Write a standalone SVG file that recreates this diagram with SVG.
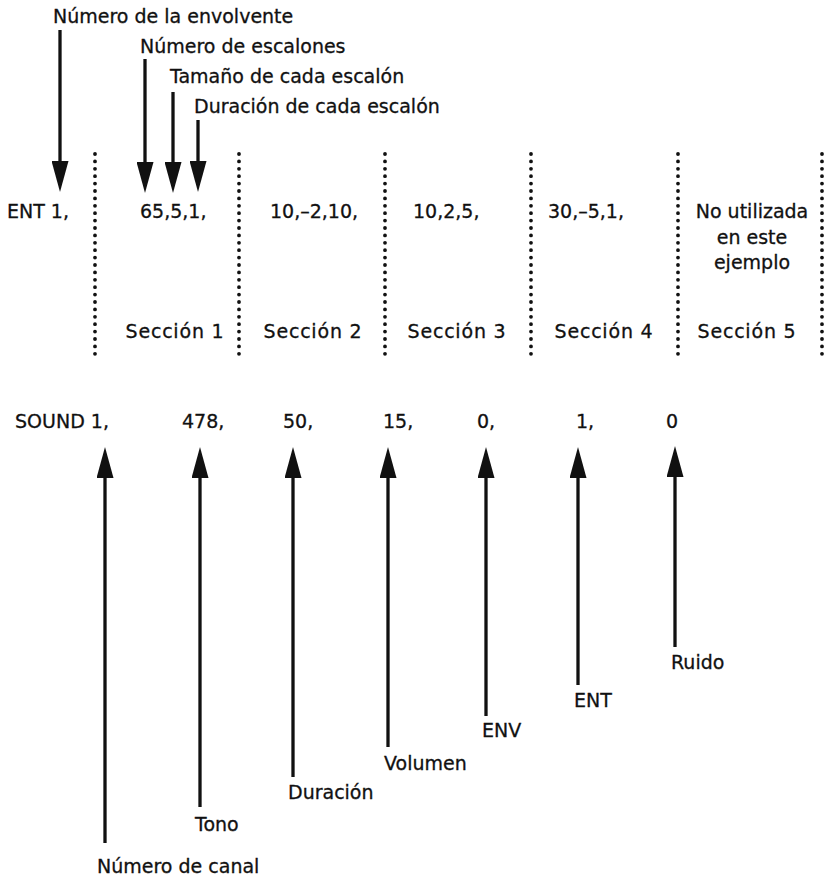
<svg xmlns="http://www.w3.org/2000/svg" width="824" height="879" viewBox="0 0 824 879">
<style>
text{font-family:"DejaVu Sans","Liberation Sans",sans-serif;font-size:19px;fill:#111;stroke:#111;stroke-width:0.3}
.m{text-anchor:middle}
.s{letter-spacing:0.8px}
.arr{stroke:#111;stroke-width:3.3;fill:none}
.dot{stroke:#111;stroke-width:3.8;stroke-linecap:round;stroke-dasharray:0 7.4;fill:none}
</style>
<defs>
<marker id="ah" viewBox="0 0 31 17" refX="19" refY="8.5" markerWidth="31" markerHeight="17" markerUnits="userSpaceOnUse" orient="auto">
<path d="M0,0 L31,8.5 L0,17 z" fill="#111"/>
</marker>
</defs>
<rect width="824" height="879" fill="#fff"/>
<g id="separators">
<line class="dot" x1="95" y1="154" x2="95" y2="356"/>
<line class="dot" x1="239" y1="154" x2="239" y2="356"/>
<line class="dot" x1="385" y1="154" x2="385" y2="356"/>
<line class="dot" x1="531" y1="154" x2="531" y2="356"/>
<line class="dot" x1="678" y1="154" x2="678" y2="356"/>
<line class="dot" x1="822" y1="154" x2="822" y2="356"/>
</g>
<g id="connectors">
<line class="arr" x1="60" y1="30" x2="60" y2="180" marker-end="url(#ah)"/>
<line class="arr" x1="145" y1="59" x2="145" y2="181" marker-end="url(#ah)"/>
<line class="arr" x1="173" y1="92" x2="173" y2="181" marker-end="url(#ah)"/>
<line class="arr" x1="198" y1="120" x2="198" y2="180" marker-end="url(#ah)"/>
<line class="arr" x1="105" y1="843" x2="105" y2="459" marker-end="url(#ah)"/>
<line class="arr" x1="200" y1="807" x2="200" y2="459" marker-end="url(#ah)"/>
<line class="arr" x1="293" y1="777" x2="293" y2="459" marker-end="url(#ah)"/>
<line class="arr" x1="388" y1="747" x2="388" y2="459" marker-end="url(#ah)"/>
<line class="arr" x1="486" y1="716" x2="486" y2="459" marker-end="url(#ah)"/>
<line class="arr" x1="578" y1="685" x2="578" y2="459" marker-end="url(#ah)"/>
<line class="arr" x1="675" y1="647" x2="675" y2="458" marker-end="url(#ah)"/>
</g>
<g id="lbl-envolvente"><text x="53" y="23">Número de la envolvente</text></g>
<g id="lbl-escalones"><text x="140" y="53">Número de escalones</text></g>
<g id="lbl-tamano"><text x="170" y="83">Tamaño de cada escalón</text></g>
<g id="lbl-duracion-esc"><text x="194" y="113">Duración de cada escalón</text></g>
<g id="ent-cmd"><text x="7" y="218">ENT 1,</text></g>
<g id="sec1-val"><text x="140" y="218">65,5,1,</text></g>
<g id="sec2-val"><text x="270" y="218">10,–2,10,</text></g>
<g id="sec3-val"><text x="413" y="218">10,2,5,</text></g>
<g id="sec4-val"><text x="548" y="218">30,–5,1,</text></g>
<g id="sec5-val">
<text class="m" x="752" y="218">No utilizada</text>
<text class="m" x="752" y="244">en este</text>
<text class="m" x="752" y="269">ejemplo</text>
</g>
<g id="sec1"><text class="m s" x="175" y="338">Sección 1</text></g>
<g id="sec2"><text class="m s" x="313" y="338">Sección 2</text></g>
<g id="sec3"><text class="m s" x="457" y="338">Sección 3</text></g>
<g id="sec4"><text class="m s" x="604" y="338">Sección 4</text></g>
<g id="sec5"><text class="m s" x="747" y="338">Sección 5</text></g>
<g id="sound-cmd"><text x="15" y="428">SOUND 1,</text></g>
<g id="v-tono"><text x="182" y="428">478,</text></g>
<g id="v-dur"><text x="283" y="428">50,</text></g>
<g id="v-vol"><text x="383" y="428">15,</text></g>
<g id="v-env"><text x="477" y="428">0,</text></g>
<g id="v-ent"><text x="576" y="428">1,</text></g>
<g id="v-ruido"><text x="666" y="428">0</text></g>
<g id="lbl-canal"><text x="97" y="873">Número de canal</text></g>
<g id="lbl-tono"><text x="195" y="831">Tono</text></g>
<g id="lbl-duracion"><text x="288" y="799">Duración</text></g>
<g id="lbl-volumen"><text x="384" y="770">Volumen</text></g>
<g id="lbl-env"><text x="482" y="737">ENV</text></g>
<g id="lbl-ent"><text x="574" y="707">ENT</text></g>
<g id="lbl-ruido"><text x="671" y="669">Ruido</text></g>
</svg>
